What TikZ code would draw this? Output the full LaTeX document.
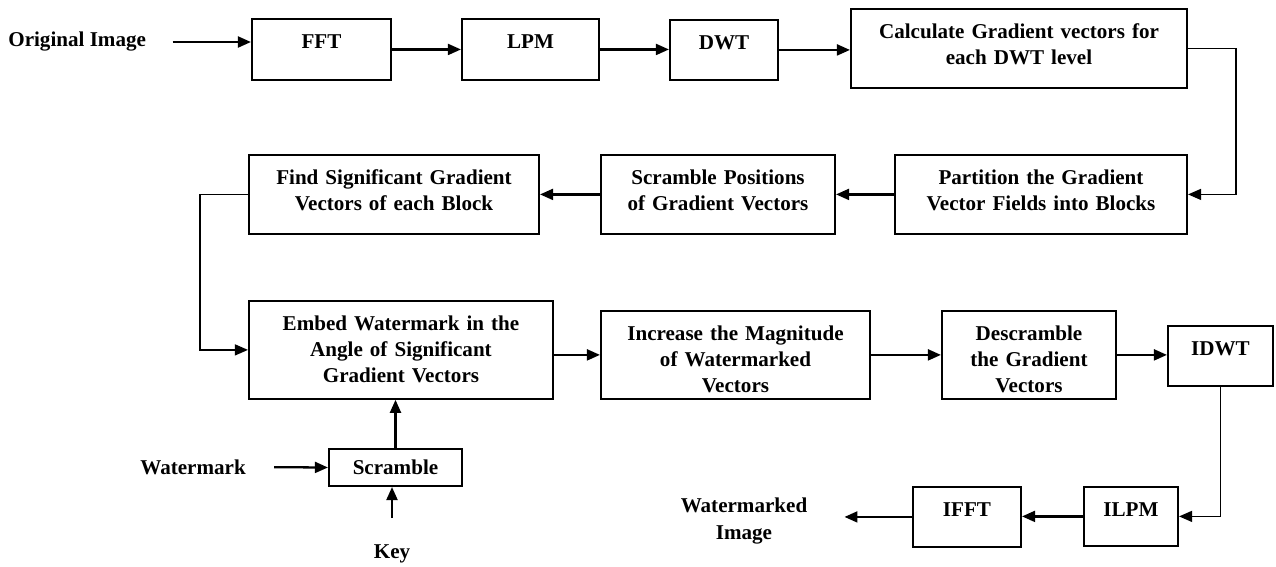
\documentclass[tikz,border=0pt]{standalone}
\usepackage{fontspec}
\setmainfont{Liberation Serif}
\usetikzlibrary{arrows.meta,calc}
\tikzset{
  >={Triangle[length=7.4pt,width=6.2pt]},
  blk/.style={draw,line width=1.2pt,anchor=north,align=center,inner xsep=0pt,inner ysep=8.5pt,text height=8pt,font=\bfseries\fontsize{12}{15}\selectfont},
  txt/.style={inner sep=0pt,align=center,font=\bfseries\fontsize{12}{15}\selectfont},
  arr/.style={->,line width=1.3pt},
  elbow/.style={->,line width=0.9pt}
}
\begin{document}
\begin{tikzpicture}[x=0.02cm,y=-0.02cm]
  \useasboundingbox (0,0) rectangle (1276,566);
  % top row
  \node[txt,anchor=west] (orig) at (8,42) {Original Image};
  \node[blk,text width=2.78cm,text depth=9.6pt] (fft) at (321.5,18) {FFT};
  \node[blk,text width=2.74cm,text depth=9.6pt] (lpm) at (530.5,18) {LPM};
  \node[blk,text width=2.16cm,text depth=9pt] (dwt) at (724,19) {DWT};
  \node[blk,text width=6.72cm,text depth=19.8pt] (calc) at (1019,8) {Calculate Gradient vectors for\\each DWT level};
  % second row
  \node[blk,text width=5.84cm,text depth=19.8pt] (part) at (1041,154) {Partition the Gradient\\Vector Fields into Blocks};
  \node[blk,text width=4.68cm,text depth=19.8pt] (scrpos) at (718,154) {Scramble Positions\\of Gradient Vectors};
  \node[blk,text width=5.8cm,text depth=19.8pt] (find) at (394,154) {Find Significant Gradient\\Vectors of each Block};
  % third row
  \node[blk,text width=6.08cm,text depth=30.6pt] (embed) at (401,300) {Embed Watermark in the\\Angle of Significant\\Gradient Vectors};
  \node[blk,text width=5.38cm,text depth=24.9pt] (incr) at (735.5,310) {Increase the Magnitude\\of Watermarked\\Vectors};
  \node[blk,text width=3.48cm,text depth=24.9pt] (descr) at (1029,310) {Descramble\\the Gradient\\Vectors};
  \node[blk,text width=2.1cm,text depth=9pt] (idwt) at (1220.5,325) {IDWT};
  % watermark input
  \node[blk,anchor=center,text width=2.66cm,inner ysep=0pt,text depth=0pt,minimum height=21pt] (scr) at (395.5,467.5) {Scramble};
  \node[txt,anchor=west] (wmk) at (140,467) {Watermark};
  \node[txt] (key) at (392,554) {Key};
  % bottom row
  \node[blk,text width=1.88cm,text depth=8.4pt] (ilpm) at (1131,486) {ILPM};
  \node[blk,text width=2.16cm,text depth=9pt] (ifft) at (967,486) {IFFT};
  \node[txt] (wmimg) at (744,521) {Watermarked\\Image};
  % connectors
  \draw[arr,shorten <=15pt] (orig.east) -- (orig.east -| fft.west);
  \draw[arr] (fft.east) -- (lpm.west);
  \draw[arr] (lpm.east) -- (lpm.east -| dwt.west);
  \draw[arr] (dwt.east) -- (dwt.east -| calc.west);
  \draw[elbow] (calc.east) -- ++(48,0) |- (part.east);
  \draw[arr] (part.west) -- (scrpos.east);
  \draw[arr] (scrpos.west) -- (find.east);
  \draw[elbow] (find.west) -- ++(-48,0) |- (embed.west);
  \draw[arr] (incr.west -| embed.east) -- (incr.west);
  \draw[arr] (incr.east) -- (descr.west);
  \draw[arr] (descr.east) -- (descr.east -| idwt.west);
  \draw[elbow] (idwt.south) |- (ilpm.east);
  \draw[arr] (ilpm.west) -- (ilpm.west -| ifft.east);
  \draw[arr,shorten >=21pt] (ifft.west) -- (ifft.west -| wmimg.east);
  \draw[arr] (scr.north) -- (scr.north |- embed.south);
  \draw[arr,shorten <=16pt] (wmk.east) -- (scr.west);
  \draw[arr,shorten <=15pt] (key.north) -- (key.north |- scr.south);
\end{tikzpicture}
\end{document}
